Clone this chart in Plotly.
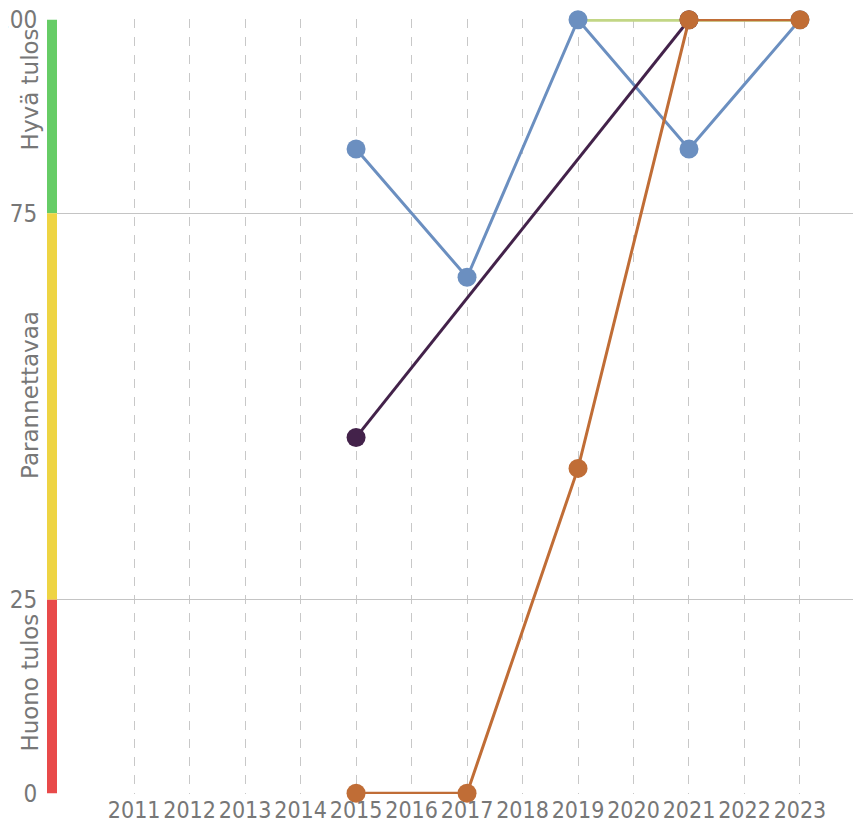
import plotly.graph_objects as go

years = [2011, 2012, 2013, 2014, 2015, 2016, 2017, 2018, 2019, 2020, 2021, 2022, 2023]

green_x = [2019, 2021, 2023]
green_y = [100, 100, 100]

blue_x = [2015, 2017, 2019, 2021, 2023]
blue_y = [83.3, 66.7, 100, 83.3, 100]

purple_x = [2015, 2021]
purple_y = [46, 100]

orange_x = [2015, 2017, 2019, 2021, 2023]
orange_y = [0, 0, 42, 100, 100]

bands = [(75, 100, "#66cc66", "Hyvä tulos", 91), (25, 75, "#eed443", "Parannettavaa", 51.5), (0, 25, "#e84a4a", "Huono tulos", 14.3)]

y_ticks = [0, 25, 75, 100]

fig = go.Figure()

series = [
    (green_x, green_y, "#c2d685", 4, False),
    (blue_x, blue_y, "#6b8fc0", 3, True),
    (purple_x, purple_y, "#43224a", 3, True),
    (orange_x, orange_y, "#c06d36", 3, True),
]
for xs, ys, col, w, mk in series:
    fig.add_trace(go.Scatter(
        x=xs, y=ys, mode="lines+markers" if mk else "lines",
        line=dict(color=col, width=w),
        marker=dict(color=col, size=19),
        cliponaxis=False, showlegend=False, hoverinfo="skip"))

plot_w = 804
shapes = []
annotations = []
for lo, hi, col, label, ypos in bands:
    shapes.append(dict(type="rect", xref="paper", yref="y", x0=-10/plot_w, x1=0, y0=lo, y1=hi,
                       fillcolor=col, line=dict(width=0), layer="above"))
    annotations.append(dict(text=label, xref="paper", yref="y", x=-27/plot_w, y=ypos,
                            textangle=-90, showarrow=False, xanchor="center", yanchor="middle",
                            font=dict(family="DejaVu Sans", size=23, color="#777777")))

# the page has an 8px body margin, so the figure is sized to end at the window edge
fig.update_layout(
    width=853, height=828,
    margin=dict(l=49, r=0, t=11, b=42, autoexpand=False),
    paper_bgcolor="white", plot_bgcolor="white",
    shapes=shapes, annotations=annotations,
    xaxis=dict(range=[2009.61, 2024.1], tickmode="array", tickvals=years,
               ticktext=[str(y) for y in years], tickangle=0, automargin=False,
               showgrid=True, gridcolor="#c8c8c8", griddash="dash", gridwidth=1,
               zeroline=False, showline=False, ticks="",
               tickfont=dict(family="DejaVu Sans Condensed, DejaVu Sans", size=23, color="#777777")),
    yaxis=dict(range=[-0.1, 100.1], tickmode="array", tickvals=y_ticks,
               ticktext=[str(v) for v in y_ticks], automargin=False,
               showgrid=True, gridcolor="#c4c4c4", gridwidth=1.3,
               zeroline=False, showline=False,
               ticks="outside", ticklen=14, tickcolor="rgba(0,0,0,0)",
               ticklabeloverflow="allow",
               tickfont=dict(family="DejaVu Sans Condensed, DejaVu Sans", size=24, color="#777777")),
)

fig.write_html("out.html")
